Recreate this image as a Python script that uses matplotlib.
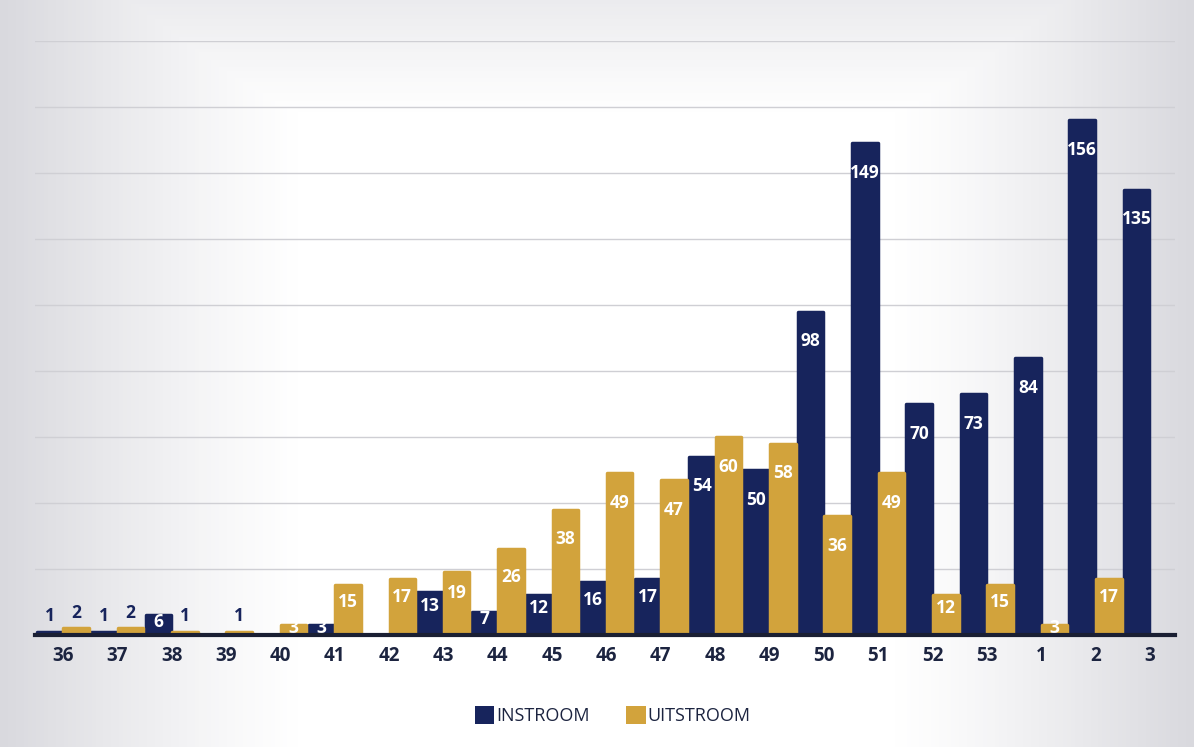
import matplotlib.pyplot as plt
import numpy as np
from matplotlib.colors import LinearSegmentedColormap
from matplotlib.patches import Patch

# week numbers and counts
weeks = ['36', '37', '38', '39', '40', '41', '42', '43', '44', '45', '46',
         '47', '48', '49', '50', '51', '52', '53', '1', '2', '3']
instroom = [1, 1, 6, 0, 0, 3, 0, 13, 7, 12, 16, 17, 54, 50, 98, 149, 70, 73, 84, 156, 135]
uitstroom = [2, 2, 1, 1, 3, 15, 17, 19, 26, 38, 49, 47, 60, 58, 36, 49, 12, 15, 3, 17, 0]

navy = '#17245c'
gold = '#d2a33c'

fig = plt.figure(figsize=(11.94, 7.47), dpi=100)

# light gray vignette background
bg = fig.add_axes([0, 0, 1, 1], zorder=-10)
xx, yy = np.meshgrid(np.linspace(0, 1, 300), np.linspace(0, 1, 200))
shade = np.clip(np.maximum(np.abs(xx - 0.5) - 0.25, 0) / 0.25, 0, 1) ** 1.2
shade = np.maximum(shade, np.clip((yy - 0.85) / 0.15, 0, 1) * 0.5)
cmap = LinearSegmentedColormap.from_list('bg', ['#ffffff', '#d9d9de'])
bg.imshow(shade, cmap=cmap, aspect='auto', extent=[0, 1, 0, 1], origin='lower', vmin=0, vmax=1)
bg.axis('off')

ax = fig.add_axes([0.029, 0.15, 0.955, 0.795])
ax.patch.set_alpha(0)
x = np.arange(len(weeks))
w = 0.47

ax.bar(x - w / 2 - 0.01, instroom, w, color=navy, edgecolor=navy, linewidth=2.5, joinstyle='round', zorder=3)
ax.bar(x + w / 2 + 0.01, uitstroom, w, color=gold, edgecolor=gold, linewidth=2.5, joinstyle='round', zorder=3)

for xs, vals in [(x - w / 2 - 0.01, instroom), (x + w / 2 + 0.01, uitstroom)]:
    for xi, v in zip(xs, vals):
        if v == 0:
            continue
        if v < 3:
            ax.text(xi, v + 2.0, str(v), ha='center', va='bottom', color=navy,
                    fontsize=12.5, fontweight='bold', family='Open Sans', zorder=4)
        else:
            ax.text(xi, v - min(9, 0.33 * v), str(v), ha='center', va='center', color='white',
                    fontsize=12.5, fontweight='bold', family='Open Sans', zorder=4)

ax.set_ylim(0, 180)
ax.set_xlim(-0.52, len(weeks) - 0.54)
ax.set_yticks(np.arange(20, 181, 20))
ax.yaxis.grid(True, color='#cfcfd4', linewidth=1.0, zorder=0)
ax.tick_params(axis='y', length=0, labelleft=False)
ax.tick_params(axis='x', length=0, pad=8)
ax.set_xticks(x)
ax.set_xticklabels(weeks, fontsize=13.5, fontweight='bold', color='#1c2440', family='Open Sans')
for s in ['top', 'right', 'left']:
    ax.spines[s].set_visible(False)
ax.spines['bottom'].set_color('#1a1f33')
ax.spines['bottom'].set_linewidth(3)
ax.spines['bottom'].set_zorder(5)

handles = [Patch(facecolor=navy, label='INSTROOM'), Patch(facecolor=gold, label='UITSTROOM')]
fig.legend(handles=handles, loc='center', bbox_to_anchor=(0.513, 0.042), ncol=2, frameon=False,
           prop={'family': 'Open Sans', 'size': 13}, handlelength=1.1, handleheight=1.1,
           handletextpad=0.1, columnspacing=2.0, labelcolor='#1c2440')

fig.savefig('out.png', dpi=100)
